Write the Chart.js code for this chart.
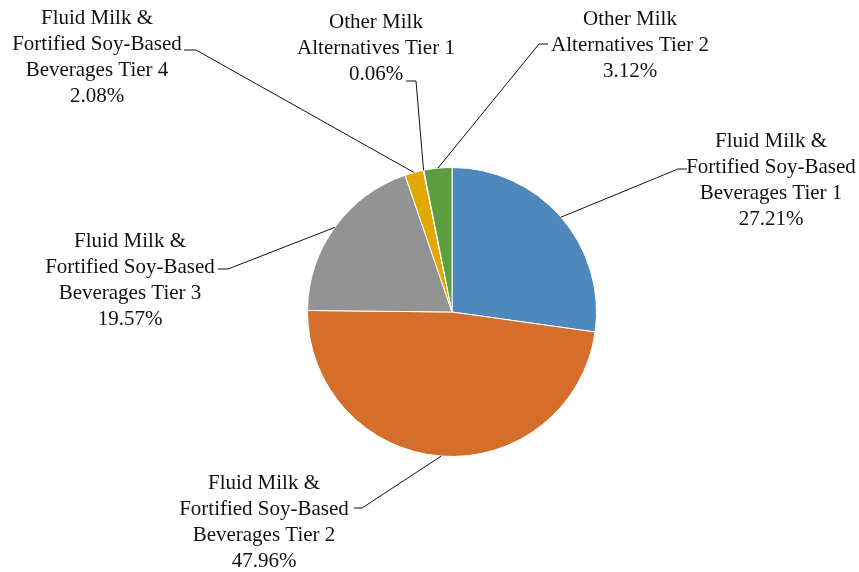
<!doctype html>
<html lang="en">
<head>
  <meta charset="utf-8" />
  <title>Milk category shares</title>
  <script src="https://cdn.jsdelivr.net/npm/chart.js"></script>
  <style>
    html, body { margin: 0; padding: 0; background: #fff; }
    #wrap { width: 859px; height: 572px; position: relative; }
  </style>
</head>
<body>
  <div id="wrap">
    <canvas id="pieChart" width="859" height="572"></canvas>
  </div>

  <script>
    // Data
    const labels = [
      ['Fluid Milk &', 'Fortified Soy-Based', 'Beverages Tier 1'],
      ['Fluid Milk &', 'Fortified Soy-Based', 'Beverages Tier 2'],
      ['Fluid Milk &', 'Fortified Soy-Based', 'Beverages Tier 3'],
      ['Fluid Milk &', 'Fortified Soy-Based', 'Beverages Tier 4'],
      ['Other Milk', 'Alternatives Tier 1'],
      ['Other Milk', 'Alternatives Tier 2']
    ];
    const shares = [27.21, 47.96, 19.57, 2.08, 0.06, 3.12];
    const colors = ['#4f88bd', '#d46e2a', '#939393', '#e1a800', '#4a7fb0', '#5f9b40'];

    // label placement: text centre x, first line y, elbow x/y, end of short tick
    const labelPos = [
      { x: 771, y: 141, ex: 678, ey: 169, tx: 687 },
      { x: 264, y: 483, ex: 362, ey: 508, tx: 354 },
      { x: 130, y: 241, ex: 228, ey: 269, tx: 218 },
      { x: 97,  y: 18,  ex: 196, ey: 50,  tx: 184 },
      { x: 376, y: 22,  ex: 416, ey: 81,  tx: 406 },
      { x: 630, y: 19,  ex: 539, ey: 44,  tx: 548 }
    ];

    const leaderLabels = {
      id: 'leaderLabels',
      afterDatasetsDraw(chart) {
        const ctx = chart.ctx;
        const meta = chart.getDatasetMeta(0);
        ctx.save();
        ctx.font = '21px "Liberation Serif", serif';
        ctx.fillStyle = '#111';
        ctx.strokeStyle = '#111';
        ctx.lineWidth = 1;
        ctx.textAlign = 'center';
        ctx.textBaseline = 'middle';
        meta.data.forEach((arc, i) => {
          const p = arc.getProps(['x', 'y', 'startAngle', 'endAngle', 'outerRadius'], true);
          const mid = (p.startAngle + p.endAngle) / 2;
          const sx = p.x + Math.cos(mid) * p.outerRadius;
          const sy = p.y + Math.sin(mid) * p.outerRadius;
          const lp = labelPos[i];
          ctx.beginPath();
          ctx.moveTo(sx, sy);
          ctx.lineTo(lp.ex, lp.ey);
          ctx.lineTo(lp.tx, lp.ey);
          ctx.stroke();
          const lines = labels[i].concat([shares[i].toFixed(2) + '%']);
          lines.forEach((t, k) => {
            ctx.fillText(t, lp.x, lp.y + k * 26);
          });
        });
        ctx.restore();
      }
    };

    const ctx = document.getElementById('pieChart').getContext('2d');
    new Chart(ctx, {
      type: 'pie',
      data: {
        labels: labels.map(l => l.join(' ')),
        datasets: [{
          data: shares,
          backgroundColor: colors,
          borderColor: '#ffffff',
          borderWidth: 1
        }]
      },
      options: {
        responsive: false,
        animation: false,
        layout: { padding: { left: 307, right: 262, top: 167, bottom: 115 } },
        plugins: {
          legend: { display: false },
          tooltip: { enabled: false }
        }
      },
      plugins: [leaderLabels]
    });
  </script>
</body>
</html>
